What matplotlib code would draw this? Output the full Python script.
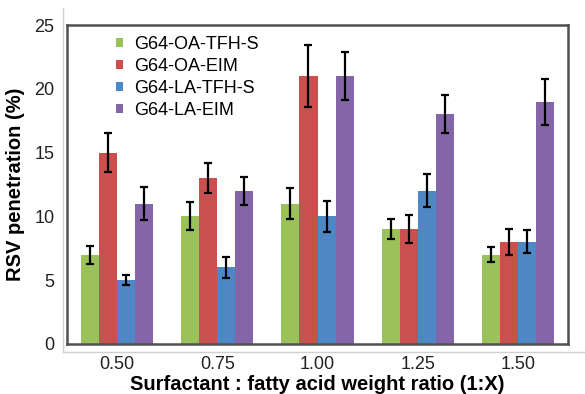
import matplotlib.pyplot as plt
import numpy as np
from matplotlib.lines import Line2D

plt.rcParams['font.family'] = ['Liberation Sans', 'DejaVu Sans']

ratios = ['0.50', '0.75', '1.00', '1.25', '1.50']
names = ['G64-OA-TFH-S', 'G64-OA-EIM', 'G64-LA-TFH-S', 'G64-LA-EIM']
oa_tfh = [7, 10, 11, 9, 7]
oa_eim = [15, 13, 21, 9, 8]
la_tfh = [5, 6, 10, 12, 8]
la_eim = [11, 12, 21, 18, 19]
oa_tfh_err = [0.7, 1.1, 1.2, 0.8, 0.6]
oa_eim_err = [1.5, 1.2, 2.4, 1.1, 1.0]
la_tfh_err = [0.4, 0.8, 1.2, 1.3, 0.9]
la_eim_err = [1.3, 1.1, 1.9, 1.5, 1.8]

colors = ['#9bc15a', '#c9504f', '#4f86c6', '#8465a8']
series = [oa_tfh, oa_eim, la_tfh, la_eim]
errs = [oa_tfh_err, oa_eim_err, la_tfh_err, la_eim_err]

fig = plt.figure(figsize=(5.85, 3.94), dpi=100)
ax = fig.add_axes([0.1145, 0.127, 0.8565, 0.8095])

x = np.arange(len(ratios))
width = 0.18
for i in range(4):
    ax.bar(x + (i - 1.5) * width, series[i], width=width, color=colors[i],
           label=names[i], yerr=errs[i], capsize=3,
           error_kw={'elinewidth': 1.6, 'capthick': 1.6, 'ecolor': 'k'})

ax.set_xlim(-0.5, 4.5)
ax.set_ylim(0, 25)
ax.set_yticks([0, 5, 10, 15, 20, 25])
ax.set_xticks(x)
ax.set_xticklabels(ratios)
ax.tick_params(length=0, labelsize=13, colors='#222222')
ax.tick_params(axis='y', pad=9)
ax.tick_params(axis='x', pad=9)
for s in ax.spines.values():
    s.set_color('#505050')
    s.set_linewidth(1.8)

ax.set_ylabel('RSV penetration (%)', fontsize=14.5, fontweight='bold', labelpad=7)
ax.set_xlabel('Surfactant : fatty acid weight ratio (1:X)', fontsize=14.5,
              fontweight='bold', labelpad=1)

ax.legend(loc='upper left', bbox_to_anchor=(0.065, 1.016), frameon=False,
          fontsize=13, handlelength=0.4, handleheight=0.4, handletextpad=0.6,
          labelspacing=0.28)

# light outer frame
fig.add_artist(Line2D([63 / 585, 63 / 585], [1 - 8 / 394, 1 - 352 / 394],
                      color='#d0d0d0', lw=1))
fig.add_artist(Line2D([63 / 585, 1.0], [1 - 352 / 394, 1 - 352 / 394],
                      color='#d0d0d0', lw=1))

plt.savefig('out.png', dpi=100)
